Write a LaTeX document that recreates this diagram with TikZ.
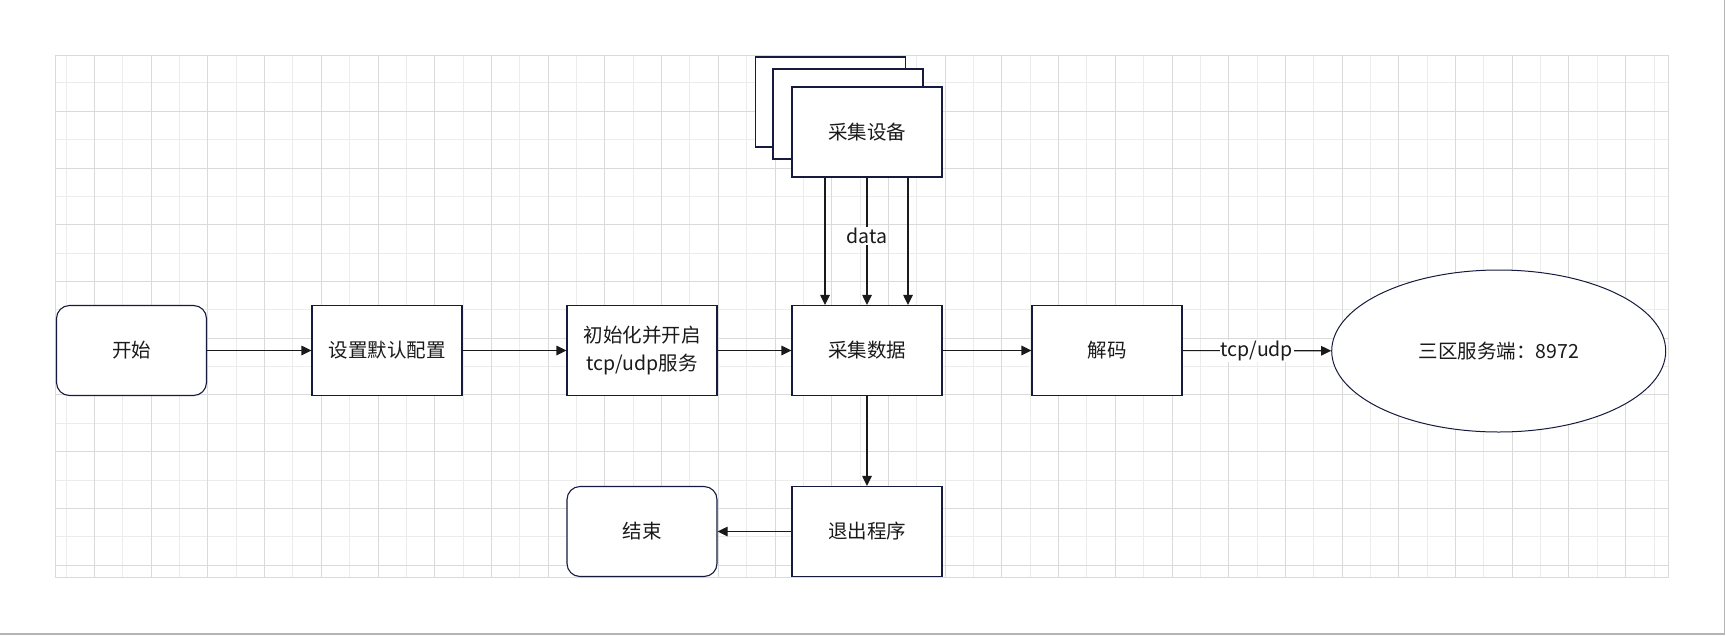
\documentclass[tikz,border=0pt]{standalone}
\usepackage{fontspec}
\setmainfont{Noto Sans CJK SC}
\usetikzlibrary{arrows.meta,shapes.geometric}
\definecolor{edgeblue}{RGB}{22,26,62}
\definecolor{inkline}{RGB}{26,26,26}
\definecolor{gridlight}{RGB}{236,236,236}
\definecolor{griddark}{RGB}{218,218,218}
\definecolor{pageline}{RGB}{180,180,180}
\newcommand{\flowfont}{\fontsize{19.5}{28}\selectfont}
\tikzset{
  proc/.style={draw=edgeblue, line width=1.1pt, fill=white, text=inkline,
               minimum width=150pt, minimum height=90pt, inner sep=0pt,
               align=center, font=\flowfont},
  term/.style={proc, rounded corners=13pt},
  srv/.style={draw=edgeblue, line width=1pt, fill=white, ellipse, text=inkline,
              minimum width=334pt, minimum height=162pt, inner sep=0pt, font=\flowfont},
  flw/.style={-{Triangle[length=10pt,width=9.5pt]}, inkline, line width=1.1pt},
  elab/.style={fill=white, inner sep=1pt, font=\flowfont, text=inkline},
  gminor/.style={gridlight, line width=1pt},
  gmajor/.style={griddark, line width=1pt},
}

\begin{document}
\begin{tikzpicture}[x=1pt, y=-1pt]
  \useasboundingbox (0,0) rectangle (1726,635);
  % page edge
  \draw[pageline, line width=1.2pt] (0,634) -- (1724.5,634) -- (1724.5,0);
  % background grid
  \foreach \j in {1,3,...,57} \draw[gminor] ({37.79+28.355*\j},55.3) -- ({37.79+28.355*\j},577.3);
  \foreach \j in {1,3,...,17} \draw[gminor] (55.3,{54.57+28.365*\j}) -- (1668.3,{54.57+28.365*\j});
  \foreach \j in {2,4,...,56} \draw[gmajor] ({37.79+28.355*\j},55.3) -- ({37.79+28.355*\j},577.3);
  \foreach \j in {2,4,...,18} \draw[gmajor] (55.3,{54.57+28.365*\j}) -- (1668.3,{54.57+28.365*\j});
  \draw[gmajor] (55.3,55.3) rectangle (1668.3,577.3);

  % main row
  \node[term] (start) at (131.5,350.5) {开始};
  \node[proc] (cfg) at (387,350.5) {设置默认配置};
  \node[proc] (init) at (642,350.5) {初始化并开启\\tcp/udp服务};
  \node[proc] (collect) at (867,350.5) {采集数据};
  \node[proc] (decode) at (1107,350.5) {解码};
  \node[srv] (server) at (1498.7,351) {三区服务端：8972};
  % bottom row
  \node[proc] (quit) at (867,531.5) {退出程序};
  \node[term] (finish) at (642,531.5) {结束};
  % stacked devices
  \node[proc] (devC) at (830.5,102) {};
  \node[proc] (devB) at (848,114) {};
  \node[proc] (devA) at (867,132) {采集设备};

  \draw[flw] (start) -- (cfg);
  \draw[flw] (cfg) -- (init);
  \draw[flw] (init) -- (collect);
  \draw[flw] (collect) -- (decode);
  \draw[flw] (decode) -- node[elab] {tcp/udp} (server);
  \draw[flw] ([xshift=-42pt]devA.south) -- ([xshift=-42pt]collect.north);
  \draw[flw] (devA) -- node[elab, pos=0.46] {data} (collect);
  \draw[flw] ([xshift=41pt]devA.south) -- ([xshift=41pt]collect.north);
  \draw[flw] (collect) -- (quit);
  \draw[flw] (quit) -- (finish);
\end{tikzpicture}
\end{document}
